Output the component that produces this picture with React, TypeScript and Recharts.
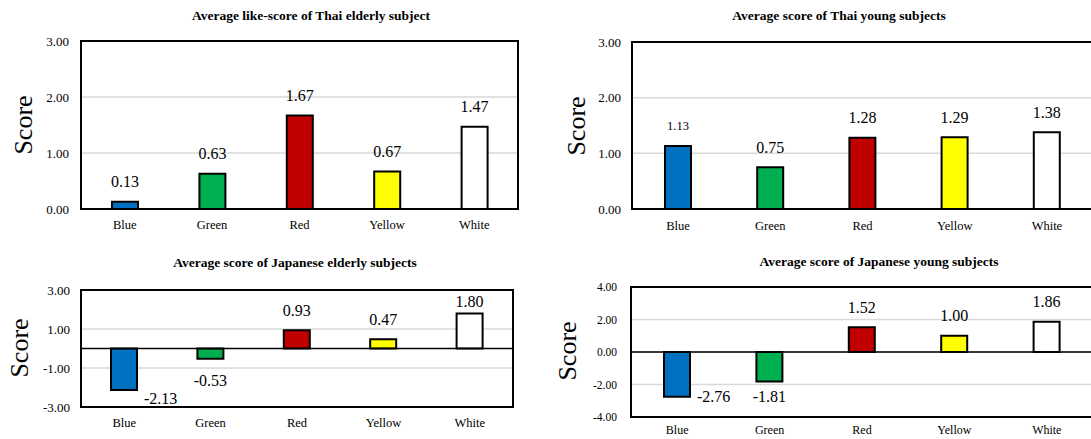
import React from 'react';
import { BarChart, Bar, Cell, XAxis, YAxis, CartesianGrid, LabelList, ReferenceLine } from 'recharts';

// colour names on the category axis
const categories = ['Blue', 'Green', 'Red', 'Yellow', 'White'];

// average scores per group
const thaiElderly = [0.13, 0.63, 1.67, 0.67, 1.47];
const thaiYoung = [1.13, 0.75, 1.28, 1.29, 1.38];
const japaneseElderly = [-2.13, -0.53, 0.93, 0.47, 1.8];
const japaneseYoung = [-2.76, -1.81, 1.52, 1.0, 1.86];

// y axis ticks
const thaiTicks = [0, 1, 2, 3];
const jpElderlyTicks = [-3, -1, 1, 3];
const jpYoungTicks = [-4, -2, 0, 2, 4];

const barColors = ['#0070C0', '#00B050', '#C00000', '#FFFF00', '#FFFFFF'];

const SERIF = '"Liberation Serif", "Times New Roman", serif';

interface Panel {
  title: string;
  values: number[];
  ticks: number[];
  left: number;
  top: number;
  width: number;
  height: number;
  marginTop: number;
  marginRight: number;
  yAxisWidth: number;
  xAxisHeight: number;
  tickFont: number;
  tickGap: number;
  catFont: number;
  catGap: number;
  titleX: number;
  titleY: number;
  scoreX: number;
  scoreY: number;
  negGap: number;
  sideDy: number;
  smallLabel?: number;
}

const panels: Panel[] = [
  {
    title: 'Average like-score of Thai elderly subject',
    values: thaiElderly, ticks: thaiTicks,
    left: 0, top: 0, width: 545, height: 240,
    marginTop: 41, marginRight: 27, yAxisWidth: 81, xAxisHeight: 31,
    tickFont: 13, tickGap: 12, catFont: 12.5, catGap: 11,
    titleX: 311, titleY: 16, scoreX: 24, scoreY: 125,
    negGap: 20, sideDy: 0,
  },
  {
    title: 'Average score of Thai young subjects',
    values: thaiYoung, ticks: thaiTicks,
    left: 545, top: 0, width: 560, height: 240,
    marginTop: 42, marginRight: 12, yAxisWidth: 87, xAxisHeight: 31,
    tickFont: 13, tickGap: 11, catFont: 12.5, catGap: 12,
    titleX: 839, titleY: 16, scoreX: 577, scoreY: 126,
    negGap: 20, sideDy: 0, smallLabel: 0,
  },
  {
    title: 'Average score of Japanese elderly subjects',
    values: japaneseElderly, ticks: jpElderlyTicks,
    left: 0, top: 240, width: 545, height: 199,
    marginTop: 50, marginRight: 32, yAxisWidth: 81, xAxisHeight: 32,
    tickFont: 13, tickGap: 11, catFont: 12.5, catGap: 11,
    titleX: 295, titleY: 263, scoreX: 20, scoreY: 348,
    negGap: 22, sideDy: 8.5,
  },
  {
    title: 'Average score of Japanese young subjects',
    values: japaneseYoung, ticks: jpYoungTicks,
    left: 545, top: 240, width: 560, height: 199,
    marginTop: 47, marginRight: 12, yAxisWidth: 86, xAxisHeight: 22,
    tickFont: 11.5, tickGap: 14, catFont: 12, catGap: 8.5,
    titleX: 879, titleY: 262, scoreX: 568, scoreY: 351,
    negGap: 15, sideDy: 0,
  },
];

function ScorePanel({ p }: { p: Panel }) {
  const data = categories.map((c, i) => ({ color: c, score: p.values[i] }));
  const plotTop = p.marginTop;
  const plotBottom = p.height - p.xAxisHeight;
  const plotLeft = p.yAxisWidth;
  const plotRight = p.width - p.marginRight;

  // values above positive bars, below negative ones; pushed beside the bar when there is no room below
  const renderLabel = (props: any) => {
    const vb = props.viewBox ?? props;
    const x = Number(vb.x ?? props.x);
    const y = Number(vb.y ?? props.y);
    const w = Number(vb.width ?? props.width);
    const h = Number(vb.height ?? props.height);
    const value = Number(props.value);
    const idx = props.index;
    const top = Math.min(y, y + h);
    const bottom = Math.max(y, y + h);
    const cx = x + w / 2;
    const fontSize = idx === p.smallLabel ? 12.5 : 16;
    const text = value.toFixed(2);
    const common = {
      fontSize,
      fontFamily: SERIF,
      style: { fontFamily: SERIF },
      fill: '#000',
      dominantBaseline: 'central' as const,
    };
    if (value >= 0) {
      const ty = Math.max(top - 20, plotTop + 11);
      return <text key={`l-${idx}`} x={cx} y={ty} textAnchor="middle" {...common}>{text}</text>;
    }
    const below = bottom + p.negGap;
    if (below + 8 > plotBottom) {
      return <text key={`l-${idx}`} x={x + w + 7} y={bottom + p.sideDy} textAnchor="start" {...common}>{text}</text>;
    }
    return <text key={`l-${idx}`} x={cx} y={below} textAnchor="middle" {...common}>{text}</text>;
  };

  const hasNegative = p.ticks[0] < 0;

  return (
    <>
      <div style={{ position: 'absolute', left: p.left, top: p.top }}>
        <BarChart
          width={p.width}
          height={p.height}
          data={data}
          margin={{ top: p.marginTop, right: p.marginRight, left: 0, bottom: 0 }}
          style={{ fontFamily: SERIF }}
        >
          <CartesianGrid vertical={false} stroke="#d9d9d9" strokeWidth={1.5} />
          <XAxis
            dataKey="color"
            height={p.xAxisHeight}
            axisLine={false}
            tickLine={false}
            tickSize={0}
            tickMargin={p.catGap}
            interval={0}
            tick={{ fontSize: p.catFont, fill: '#000', fontFamily: SERIF, style: { fontFamily: SERIF } }}
          />
          <YAxis
            type="number"
            width={p.yAxisWidth}
            domain={[p.ticks[0], p.ticks[p.ticks.length - 1]]}
            ticks={p.ticks}
            interval={0}
            axisLine={false}
            tickLine={false}
            tickSize={0}
            tickMargin={p.tickGap}
            tickFormatter={(v: number) => v.toFixed(2)}
            tick={{ fontSize: p.tickFont, fill: '#000', fontFamily: SERIF, style: { fontFamily: SERIF } }}
          />
          {hasNegative && <ReferenceLine y={0} stroke="#000" strokeWidth={1.3} />}
          <Bar dataKey="score" barSize={26} stroke="#000" strokeWidth={2} isAnimationActive={false}>
            {data.map((d, i) => (
              <Cell key={d.color} fill={barColors[i]} />
            ))}
            <LabelList dataKey="score" content={renderLabel} />
          </Bar>
          <rect
            x={plotLeft}
            y={plotTop}
            width={plotRight - plotLeft}
            height={plotBottom - plotTop}
            fill="none"
            stroke="#000"
            strokeWidth={2}
          />
        </BarChart>
      </div>
      <div
        style={{
          position: 'absolute',
          left: p.titleX,
          top: p.titleY,
          transform: 'translate(-50%, -50%)',
          whiteSpace: 'nowrap',
          fontFamily: SERIF,
          fontWeight: 'bold',
          fontSize: 13.5,
          lineHeight: 1,
          color: '#000',
        }}
      >
        {p.title}
      </div>
      <div
        style={{
          position: 'absolute',
          left: p.scoreX,
          top: p.scoreY,
          transform: 'translate(-50%, -50%) rotate(-90deg)',
          whiteSpace: 'nowrap',
          fontFamily: SERIF,
          fontSize: 26,
          lineHeight: 1,
          color: '#000',
        }}
      >
        Score
      </div>
    </>
  );
}

export default function App() {
  return (
    <div
      style={{
        position: 'fixed',
        left: 0,
        top: 0,
        width: 1091,
        height: 439,
        overflow: 'hidden',
        background: '#fff',
        fontFamily: SERIF,
      }}
    >
      {panels.map((p) => (
        <ScorePanel key={p.title} p={p} />
      ))}
    </div>
  );
}
